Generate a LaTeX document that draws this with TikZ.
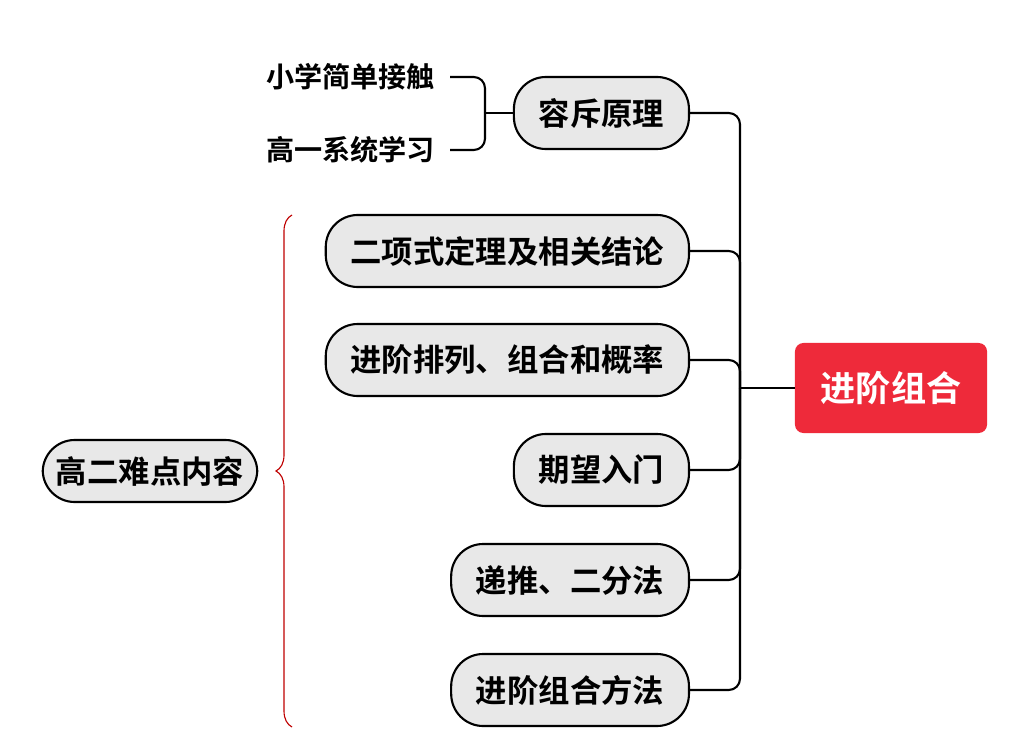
\documentclass[tikz,border=0pt]{standalone}
\usepackage{fontspec}
\setmainfont{Noto Sans CJK SC Bold}
\usetikzlibrary{decorations.pathreplacing}
\definecolor{rootred}{HTML}{EE2A3A}
\begin{document}
\begin{tikzpicture}[
    x=0.025cm, y=-0.025cm,
    topic/.style={draw, line width=1.5pt, fill=gray!18, rounded corners=0.8cm,
        minimum height=1.8cm, inner xsep=0.62cm, font=\fontsize{22.3}{26}\selectfont},
    root/.style={fill=rootred, text=white, rounded corners=6pt, minimum width=4.8cm,
        minimum height=2.25cm, font=\fontsize{25}{30}\selectfont},
    leaf/.style={font=\fontsize{20}{24}\selectfont},
    conn/.style={line width=1.5pt, rounded corners=8pt}
]
    \useasboundingbox (0,0) rectangle (1024,755);

    % main node and branches
    \node[root] (jinjie) at (891,388) {进阶组合};
    \node[topic, anchor=east] (rongchi) at (690,113) {容斥原理};
    \node[topic, anchor=east] (erxiang) at (690,251) {二项式定理及相关结论};
    \node[topic, anchor=east] (pailie) at (690,360) {进阶排列、组合和概率};
    \node[topic, anchor=east] (qiwang) at (690,470) {期望入门};
    \node[topic, anchor=east] (ditui) at (690,580) {递推、二分法};
    \node[topic, anchor=east] (fangfa) at (690,690) {进阶组合方法};
    \node[topic, minimum height=1.55cm, inner xsep=0.33cm] (gaoer) at (150,471) {高二难点内容};

    % leaves of the first branch
    \node[leaf, anchor=east] (xiaoxue) at (440,77) {小学简单接触};
    \node[leaf, anchor=east] (gaoyi) at (440,150) {高一系统学习};

    % connectors
    \coordinate (trunk) at (740,388);
    \draw[conn] (jinjie.west) -- (trunk);
    \foreach \n in {rongchi, erxiang, pailie, qiwang, ditui, fangfa}
        \draw[conn] (\n.east) -| (trunk);
    \coordinate (split) at (485,113);
    \draw[conn] (rongchi.west) -- (split);
    \draw[conn] (450,77) -| (split);
    \draw[conn] (450,150) -| (split);

    % brace
    \draw[red!75!black, line width=0.8pt, decorate,
        decoration={brace, amplitude=0.4cm}] (292,727) -- (292,215);
\end{tikzpicture}
\end{document}
